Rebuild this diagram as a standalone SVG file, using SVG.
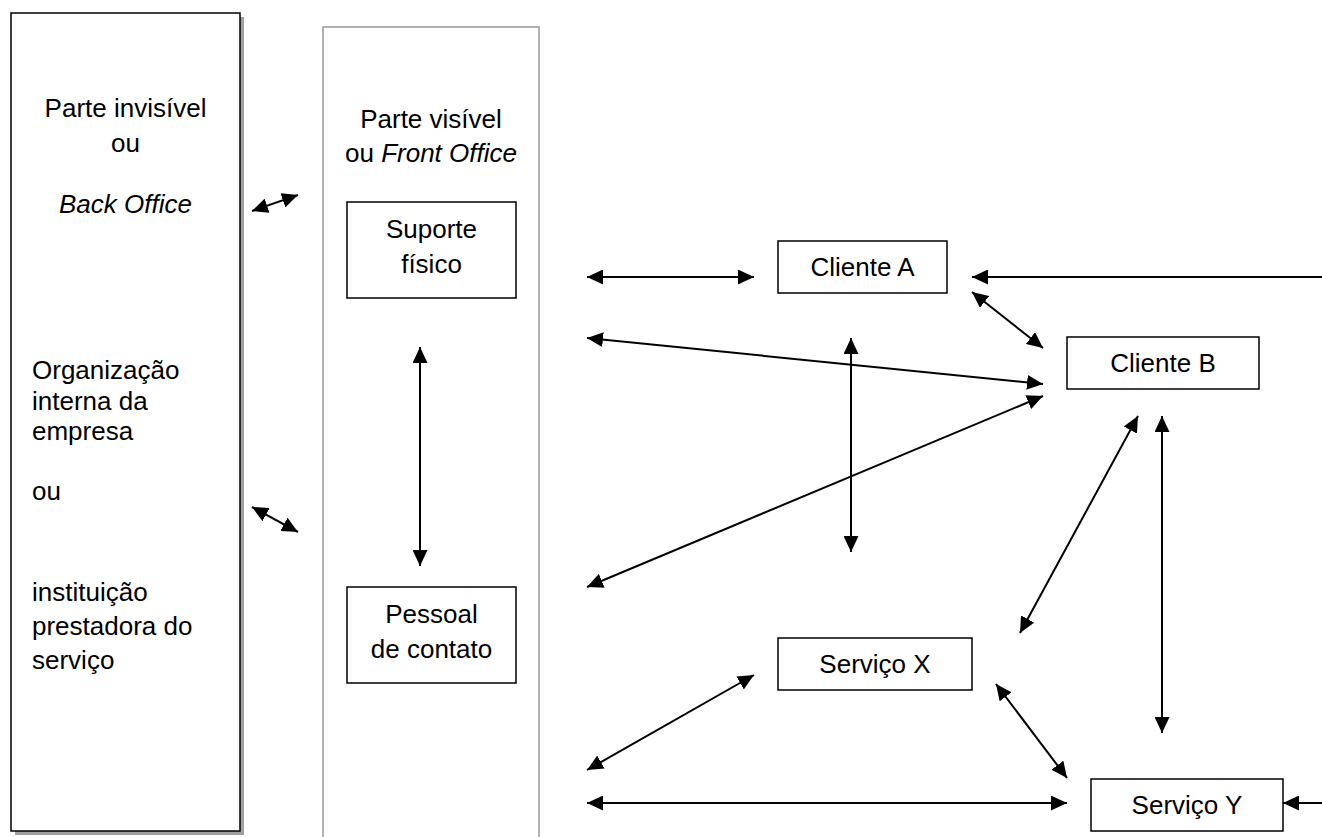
<svg xmlns="http://www.w3.org/2000/svg" width="1322" height="837" viewBox="0 0 1322 837">
<style>
text{font-family:"Liberation Sans",Arial,sans-serif;font-size:26px;fill:#000}
.c{text-anchor:middle}
.i{font-style:italic}
.box{fill:#fff;stroke:#000;stroke-width:1.5}
.conn line{stroke:#000;stroke-width:2;marker-start:url(#ah);marker-end:url(#ah)}
.conn line.one{marker-start:none}
</style>
<defs>
<marker id="ah" markerUnits="userSpaceOnUse" markerWidth="17" markerHeight="15" refX="16" refY="7.5" orient="auto-start-reverse" viewBox="0 0 17 15">
<path d="M0,0 L16,7.5 L0,15 z" fill="#000"/>
</marker>
</defs>
<rect width="1322" height="837" fill="#fff"/>
<g id="back-office">
<rect x="15" y="17" width="229" height="818" fill="#a0a0a0"/>
<rect x="11" y="13" width="229" height="818" class="box"/>
<text x="125.5" y="117" class="c">Parte invisível</text>
<text x="125.5" y="152" class="c">ou</text>
<text x="125.5" y="213" class="c i">Back Office</text>
<text x="32" y="379">Organização</text>
<text x="32" y="410">interna da</text>
<text x="32" y="440">empresa</text>
<text x="32" y="500">ou</text>
<text x="32" y="601">instituição</text>
<text x="32" y="635">prestadora do</text>
<text x="32" y="669">serviço</text>
</g>
<g id="front-office">
<rect x="323" y="27" width="216" height="830" fill="#fff" stroke="#999" stroke-width="1.5"/>
<text x="431" y="128" class="c">Parte visível</text>
<text x="431" y="162" class="c">ou <tspan class="i">Front Office</tspan></text>
</g>
<g id="suporte-fisico">
<rect x="347" y="202" width="169" height="96" class="box"/>
<text x="431.5" y="238" class="c">Suporte</text>
<text x="431.5" y="273" class="c">físico</text>
</g>
<g id="pessoal-contato">
<rect x="347" y="587" width="169" height="96" class="box"/>
<text x="431.5" y="623" class="c">Pessoal</text>
<text x="431.5" y="658" class="c">de contato</text>
</g>
<g id="cliente-a">
<rect x="778" y="241" width="169" height="52" class="box"/>
<text x="862.5" y="276" class="c">Cliente A</text>
</g>
<g id="cliente-b">
<rect x="1067" y="337" width="192" height="52" class="box"/>
<text x="1163" y="372" class="c">Cliente B</text>
</g>
<g id="servico-x">
<rect x="778" y="638" width="194" height="52" class="box"/>
<text x="875" y="673" class="c">Serviço X</text>
</g>
<g id="servico-y">
<rect x="1091" y="779" width="192" height="52" class="box"/>
<text x="1187" y="814" class="c">Serviço Y</text>
</g>
<g id="connectors" class="conn">
<line x1="252" y1="211" x2="298" y2="195"/>
<line x1="252" y1="507" x2="298" y2="532"/>
<line x1="420" y1="347" x2="420" y2="566"/>
<line x1="587" y1="277" x2="754" y2="277"/>
<line x1="587" y1="338" x2="1043" y2="384"/>
<line x1="851" y1="338" x2="851" y2="552"/>
<line class="one" x1="1322" y1="277" x2="972" y2="277"/>
<line x1="972" y1="292" x2="1043" y2="348"/>
<line x1="587" y1="587" x2="1043" y2="396"/>
<line x1="1138" y1="416" x2="1020" y2="633"/>
<line x1="1162" y1="416" x2="1162" y2="733"/>
<line x1="587" y1="770" x2="754" y2="675"/>
<line x1="996" y1="684" x2="1067" y2="778"/>
<line x1="587" y1="803" x2="1067" y2="803"/>
<line class="one" x1="1322" y1="803" x2="1283" y2="803"/>
</g>
</svg>
